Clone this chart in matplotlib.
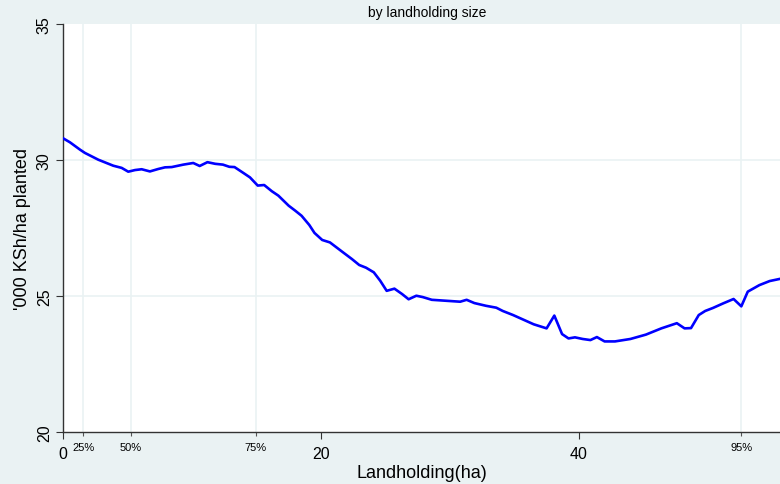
import numpy as np
import matplotlib.pyplot as plt

plt.rcParams['font.family'] = ['Liberation Sans', 'DejaVu Sans']

# curve: landholding (ha) vs '000 KSh/ha planted
land = [0.0, 0.54, 1.32, 1.7, 2.74, 3.9, 4.55, 5.06, 5.58, 6.1, 6.74, 7.39, 7.91, 8.43,
        9.33, 10.1, 10.6, 11.2, 11.8, 12.4, 12.9, 13.3, 14.0, 14.5, 15.1, 15.6, 16.2,
        16.7, 17.5, 18.0, 18.5, 19.1, 19.5, 20.1, 20.7, 21.7, 22.4, 22.97, 23.5, 24.1,
        24.6, 25.1, 25.7, 26.3, 26.8, 27.4, 27.9, 28.6, 30.8, 31.3, 31.9, 32.8, 33.6,
        34.1, 34.9, 35.7, 36.5, 37.5, 38.1, 38.7, 39.2, 39.7, 40.3, 40.9, 41.4, 42.0,
        42.8, 44.0, 45.2, 46.4, 47.6, 48.2, 48.7, 49.3, 49.8, 50.4, 51.2, 52.0, 52.6,
        53.1, 54.0, 54.8, 55.6]
value = [30.80, 30.65, 30.38, 30.26, 30.01, 29.79, 29.71, 29.57, 29.63, 29.66, 29.58,
         29.67, 29.73, 29.74, 29.83, 29.89, 29.78, 29.92, 29.86, 29.83, 29.75, 29.74,
         29.52, 29.36, 29.06, 29.08, 28.85, 28.69, 28.32, 28.14, 27.95, 27.61, 27.32,
         27.06, 26.97, 26.61, 26.36, 26.14, 26.04, 25.87, 25.56, 25.19, 25.27, 25.07,
         24.88, 25.01, 24.96, 24.86, 24.79, 24.86, 24.74, 24.64, 24.57, 24.45, 24.30,
         24.13, 23.96, 23.81, 24.28, 23.60, 23.44, 23.48, 23.42, 23.38, 23.49, 23.33,
         23.33, 23.42, 23.58, 23.81, 24.00, 23.81, 23.82, 24.30, 24.45, 24.56, 24.73,
         24.89, 24.62, 25.16, 25.40, 25.55, 25.63]

pct_pos = [1.57, 5.25, 14.96, 52.6]
pct_labels = ['25%', '50%', '75%', '95%']
x_ticks = [0, 20, 40]
y_ticks = [20, 25, 30, 35]

bg = '#eaf2f3'
fig = plt.figure(figsize=(7.8, 4.85), dpi=100, facecolor=bg)
ax = fig.add_axes([63/780, 1 - 433/485, (780-63)/780, (433-25)/485])
ax.set_facecolor('white')

for y in [25, 30]:
    ax.axhline(y, color=bg, lw=1.2, zorder=1)
for x in pct_pos:
    ax.axvline(x, color=bg, lw=1.2, zorder=1)

ax.plot(land, value, color='#0000ff', lw=1.9, zorder=3)

ax.set_xlim(0, 55.6)
ax.set_ylim(20, 35)
ax.set_xticks(x_ticks)
ax.set_xticklabels([str(t) for t in x_ticks], fontsize=11.5)
ax.set_xticks(pct_pos, labels=pct_labels, minor=True)
ax.tick_params(axis='x', which='major', length=5, width=0.8, color='#333333', pad=5)
ax.tick_params(axis='x', which='minor', length=3, width=0.8, color='#555555',
               labelsize=8, pad=4)
ax.set_yticks(y_ticks)
ax.set_yticklabels([str(t) for t in y_ticks], fontsize=11.5, rotation=90, va='center')
ax.tick_params(axis='y', length=5, width=0.8, color='#333333', pad=3)

for s in ['top', 'right']:
    ax.spines[s].set_visible(False)
for s in ['left', 'bottom']:
    ax.spines[s].set_color('#333333')
    ax.spines[s].set_linewidth(1.0)

ax.set_xlabel('Landholding(ha)', fontsize=13, labelpad=2)
ax.set_ylabel("'000 KSh/ha planted", fontsize=13, labelpad=4)
fig.text(427/780, 1 - 13/485, 'by landholding size', ha='center', va='center', fontsize=10)

fig.savefig('out.png', dpi=100, facecolor=bg)
